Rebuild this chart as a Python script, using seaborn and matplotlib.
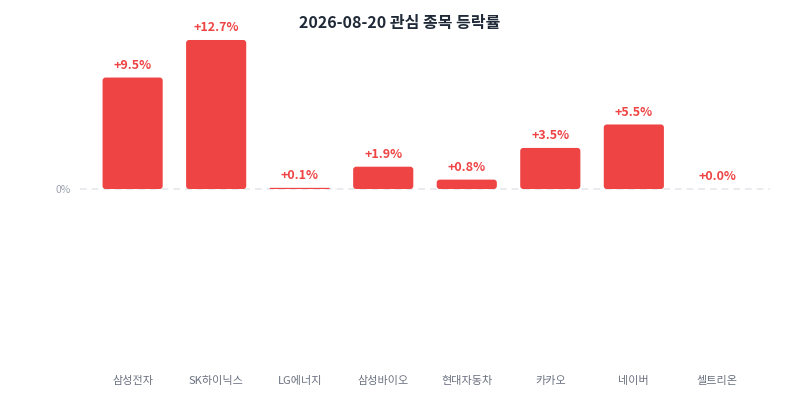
import matplotlib
matplotlib.use("Agg")
import matplotlib.pyplot as plt
import pandas as pd
import seaborn as sns
from matplotlib.patches import FancyBboxPatch

# data
stocks = ["삼성전자", "SK하이닉스", "LG에너지", "삼성바이오", "현대자동차", "카카오", "네이버", "셀트리온"]
changes = [9.5, 12.7, 0.1, 1.9, 0.8, 3.5, 5.5, 0.0]
title = "2026-08-20 관심 종목 등락률"

df = pd.DataFrame({"stock": stocks, "change": changes})

sns.set_theme(style="white")
plt.rcParams["font.family"] = ["Noto Sans CJK KR", "DejaVu Sans"]

fig = plt.figure(figsize=(8, 4), dpi=100)
ax = fig.add_axes([0.1, 0.0875, 0.8625, 0.88])

red = "#ef4444"
sns.barplot(data=df, x="stock", y="change", color=red, width=0.72, ax=ax,
            saturation=1, errorbar=None)

ax.set_xlim(-0.63, 7.63)
ax.set_ylim(-15, 15)

# swap square bars for rounded ones
px_x = 690 / 8.26
px_y = 352 / 30
for p in list(ax.patches):
    x, y = p.get_xy()
    w, h = p.get_width(), p.get_height()
    p.remove()
    if h <= 0:
        continue
    r_px = min(3.0, h * px_y / 2)
    rx = r_px / px_x
    ry = r_px / px_y
    ax.add_patch(FancyBboxPatch((x, y), w, h,
                                boxstyle=f"round,pad=0,rounding_size={rx}",
                                mutation_aspect=ry / rx,
                                facecolor=red, edgecolor="none", zorder=3))

# value labels
for i, v in enumerate(changes):
    ax.annotate(f"+{v:.1f}%", (i, v), xytext=(0, 4), textcoords="offset points",
                ha="center", va="bottom", color=red, fontsize=9, fontweight="bold")

# zero line
ax.axhline(0, color="#e5e7eb", lw=1.2, ls=(0, (4, 3)), zorder=1)

ax.set_yticks([0])
ax.set_yticklabels(["0%"], color="#9ca3af", fontsize=7.5)
ax.tick_params(axis="y", length=0, pad=7)
ax.tick_params(axis="x", length=0, pad=8, labelsize=8, labelcolor="#6b7280")
ax.set_xlabel("")
ax.set_ylabel("")
for s in ax.spines.values():
    s.set_visible(False)

fig.text(0.5, 0.943, title, ha="center", va="center", fontsize=11.5,
         fontweight="bold", color="#1f2937")

fig.savefig("out.png", dpi=100, facecolor="white")
